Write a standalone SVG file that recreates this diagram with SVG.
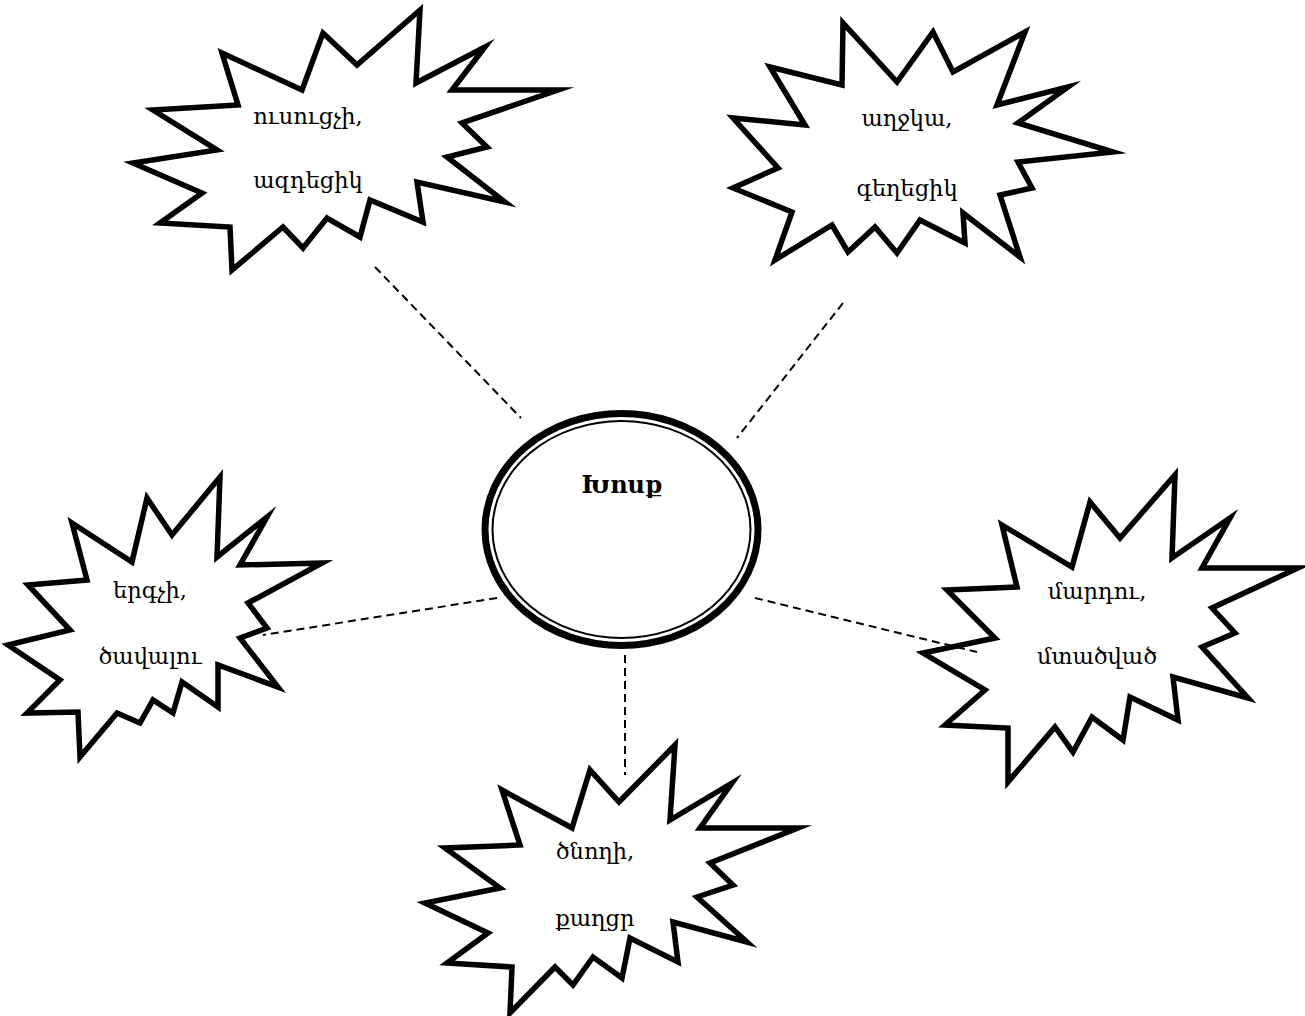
<svg xmlns="http://www.w3.org/2000/svg" width="1305" height="1016" viewBox="0 0 1305 1016">
<style>
.star{fill:#fff;stroke:#000;stroke-width:5.5;stroke-linejoin:miter;stroke-miterlimit:20}
.lbl{font-family:"DejaVu Serif","Liberation Serif",serif;font-size:22.5px;fill:#000;text-anchor:middle}
.title{font-family:"DejaVu Serif","Liberation Serif",serif;font-size:24px;font-weight:bold;fill:#000;text-anchor:middle}
.conn{stroke:#000;stroke-width:2;stroke-dasharray:8 5;fill:none}
</style>
<rect width="1305" height="1016" fill="#fff"/>
<g id="node-teacher">
<polygon class="star" points="222,53 302,90 323,33 357,65 420,10 416,83 485,47 452,90 558,90 462,123 487,147 447,157 505,202 417,182 423,222 370,200 360,237 327,218 303,248 283,227 232,270 230,227 160,223 202,193 133,163 217,150 153,110 238,105"/>
<text class="lbl" x="308" y="124">ուսուցչի,</text>
<text class="lbl" x="308" y="188">ազդեցիկ</text>
</g>
<g id="node-girl">
<polygon class="star" points="770,67 842,85 843,23 897,82 933,32 953,72 1025,32 997,105 1068,87 1018,123 1113,152 1018,162 1032,188 1000,195 1020,257 963,213 965,243 920,220 897,253 875,227 848,252 832,225 775,260 792,212 733,188 778,168 733,118 805,125"/>
<text class="lbl" x="907" y="126">աղջկա,</text>
<text class="lbl" x="907" y="196">գեղեցիկ</text>
</g>
<g id="node-song">
<polygon class="star" points="72,523 132,562 147,498 172,535 220,477 217,557 267,517 240,565 322,563 248,603 267,628 240,638 278,687 218,665 218,707 182,682 173,713 153,700 140,723 117,713 80,757 78,712 27,713 60,680 8,645 70,630 28,585 87,580"/>
<text class="lbl" x="150" y="598">երգչի,</text>
<text class="lbl" x="150" y="664">ծավալու</text>
</g>
<g id="node-person">
<polygon class="star" points="1002,525 1072,567 1090,502 1120,538 1175,475 1172,558 1230,518 1202,568 1298,568 1212,608 1235,633 1202,647 1248,698 1173,677 1178,720 1130,697 1123,740 1092,717 1073,752 1055,727 1008,782 1008,728 945,725 985,690 923,653 995,638 947,590 1017,587"/>
<text class="lbl" x="1097" y="599">մարդու,</text>
<text class="lbl" x="1097" y="664">մտածված</text>
</g>
<g id="node-parent">
<polygon class="star" points="502,790 572,828 590,770 619,802 675,745 670,820 732,783 700,828 798,828 710,863 733,885 697,897 747,942 673,922 678,962 630,938 622,978 593,957 573,985 555,967 510,1013 512,967 447,963 488,933 425,903 500,888 445,848 520,845"/>
<text class="lbl" x="595" y="859">ծնողի,</text>
<text class="lbl" x="595" y="926">քաղցր</text>
</g>
<g id="connectors">
<line class="conn" x1="375" y1="267" x2="521" y2="418"/>
<line class="conn" x1="843" y1="303" x2="737" y2="438"/>
<line class="conn" x1="497" y1="598" x2="263" y2="635"/>
<line class="conn" x1="755" y1="598" x2="977" y2="652"/>
<line class="conn" x1="625" y1="655" x2="625" y2="775"/>
</g>
<g id="node-center">
<ellipse cx="621.5" cy="529.5" rx="136.5" ry="116" fill="#fff" stroke="#000" stroke-width="7"/>
<ellipse cx="621.5" cy="529.5" rx="129" ry="108.5" fill="none" stroke="#000" stroke-width="2"/>
<text class="title" x="622" y="493">Խոսք</text>
</g>
</svg>
